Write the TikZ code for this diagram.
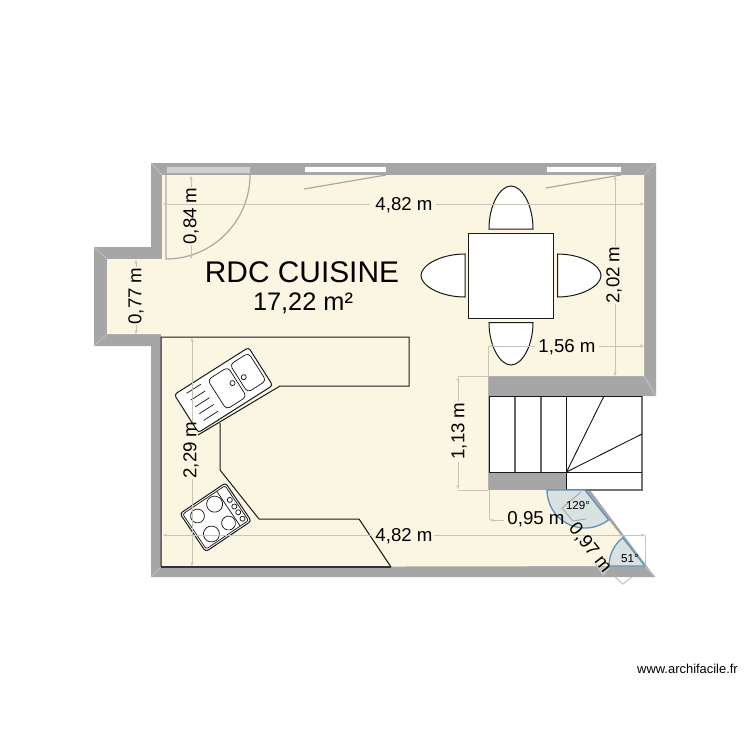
\documentclass[tikz,border=0pt]{standalone}
\usepackage{fontspec}
\setmainfont{Liberation Sans}
\usetikzlibrary{arrows.meta}
\definecolor{floorc}{HTML}{FBF6E2}
\definecolor{wallc}{HTML}{A6A6A6}
\definecolor{mitre}{HTML}{BDBDBD}
\definecolor{dimc}{HTML}{C6C4B8}
\definecolor{winc}{HTML}{A9A9A5}
\definecolor{anglef}{HTML}{D8E2E0}
\definecolor{angled}{HTML}{5F95C2}
\tikzset{
  dimline/.style={draw=dimc,line width=0.75pt},
  dimleft/.style={dimline,{Stealth[length=3pt,width=2.4pt]}-},
  dimright/.style={dimline,-{Stealth[length=3pt,width=2.4pt]}},
  dimtext/.style={inner sep=0pt,font=\fontsize{14}{14}\selectfont,text=black},
  mitreline/.style={draw=mitre,line width=0.75pt},
  furn/.style={draw=black!90,line width=0.75pt,fill=white},
  counterline/.style={draw=black!90,line width=0.75pt},
  thin fur/.style={draw=black!90,line width=0.55pt},
  windowbox/.style={fill=white,draw=winc,line width=0.6pt},
  winswing/.style={draw=winc,line width=0.9pt},
  anglesector/.style={fill=anglef,draw=angled,line width=1pt},
}
\begin{document}
\begin{tikzpicture}[x=0.75pt,y=-0.75pt]
\useasboundingbox (0,0) rectangle (750,750);
\fill[white] (0,0) rectangle (750,750);
% walls
\fill[wallc] (94,247) -- (151,247) -- (151,163) -- (656,163) -- (656,396) -- (566,396) -- (566,490) -- (590,490) -- (655,577) -- (151,577) -- (151,346) -- (94,346) -- cycle;
% room
\fill[floorc] (107,259) -- (162,259) -- (162,175) -- (644,175) -- (644,376) -- (488,376) -- (488,490) -- (585,490) -- (645,566) -- (161,567) -- (161,334) -- (107,334) -- cycle;
% mitres
\draw[mitreline] (151,163) -- (162,175);
\draw[mitreline] (656,163) -- (644,175);
\draw[mitreline] (94,247) -- (107,259);
\draw[mitreline] (94,346) -- (107,334);
\draw[mitreline] (151,577) -- (161,567);
\draw[mitreline] (656,396) -- (644,376);
\draw[mitreline] (655,577) -- (645,566);
\fill[mitre!90!white] (595,564) -- (610,568) -- (603,576) -- cycle;
% openings
\fill[winc!55!white,draw=winc,line width=0.6pt] (166,166) rectangle (250,173);
\draw[windowbox] (304,166) rectangle (386,172);
\draw[windowbox] (546,166) rectangle (621,172);
\draw[winswing] (304,189) -- (386,175);
\draw[winswing] (546,188) -- (621,175);
\draw[winswing] (166,173) -- (166,259) arc[start angle=270,end angle=360,radius=63pt];
% counter
\draw[counterline] (161,567) -- (161,337) -- (409,337) -- (409,386) -- (280,386) -- (198,435);
\draw[counterline] (220,423) -- (220,470) -- (259,519) -- (359,519) -- (391,567);
\draw[draw=black!80,line width=1pt] (161,567) -- (391,567);
% sink
\begin{scope}[shift={(223.5,390)},rotate=32.4]
  \draw[furn,rounded corners=2.2pt] (-44,-22.5) rectangle (44,22.5);
  \draw[thin fur,rounded corners=3pt] (-8,-17) rectangle (16,18);
  \draw[thin fur,rounded corners=3pt] (19,-18) rectangle (41,15);
  \draw[thin fur] (11.3,-1) circle (1.9pt);
  \draw[thin fur] (23.9,0) circle (1.9pt);
  \foreach \yy in {-17,-9,-1,7,15} \draw[thin fur] (-33,\yy) -- (-16,\yy);
\end{scope}
% hob
\begin{scope}[shift={(215.5,518)},rotate=34]
  \draw[furn,rounded corners=2.2pt] (-27,-23.5) rectangle (28,22.5);
  \draw[thin fur,rounded corners=1.6pt] (-25,-21.5) rectangle (26,20.5);
  \draw[thin fur] (16,-21.5) -- (16,20.5);
  \draw[thin fur] (7,-12) circle (6pt);
  \draw[thin fur] (8,11.5) circle (5.2pt);
  \draw[thin fur] (-13.8,-11.7) circle (5.2pt);
  \draw[thin fur] (-12.3,11) circle (6pt);
  \foreach \yy in {-7,1,8,15.7} \draw[thin fur] (22,\yy) circle (1.9pt);
\end{scope}
% table and chairs
\draw[furn] (468,233) rectangle (553,318);
\draw[furn] (489,229) .. controls (489,205) and (500,186) .. (511,186) .. controls (522,186) and (533,205) .. (533,229) -- cycle;
\draw[furn] (489,322.5) .. controls (489,346) and (500,365) .. (511,365) .. controls (522,365) and (533,346) .. (533,322.5) -- cycle;
\draw[furn] (465,254) .. controls (441,254) and (421,265) .. (421,275.5) .. controls (421,286) and (441,297) .. (465,297) -- cycle;
\draw[furn] (557.5,254) .. controls (581,254) and (601,265) .. (601,275.5) .. controls (601,286) and (581,297) .. (557.5,297) -- cycle;
% stairs
\fill[white] (489,396) rectangle (642,472);
\fill[white] (566,472) rectangle (642,490);
\draw[draw=black!55,line width=0.9pt] (642,396) -- (642,490) -- (566,490);
\draw[draw=black!60,line width=0.9pt] (515,396) -- (515,472) (541,396) -- (541,472);
\draw[draw=black!90,line width=0.75pt] (642,396) -- (489,396) -- (489,472) -- (642,472);
\draw[draw=black!90,line width=0.75pt] (566.5,396) -- (566.5,490);
\draw[draw=black!90,line width=0.7pt] (566.5,472) -- (604,396);
\draw[draw=black!90,line width=0.7pt] (566.5,472) -- (642,434);
% angle sectors
\draw[anglesector] (585,490) -- (547,490) arc[start angle=180,end angle=308.3,radius=28.5pt] -- cycle;
\draw[anglesector] (645,566) -- (609,566) arc[start angle=180,end angle=128.3,radius=27pt] -- cycle;
\draw[draw=winc,line width=0.7pt] (581,492) -- (562,508) -- (573,521) -- (586,519);
% dimension lines
\draw[dimleft] (163,204) -- (370,204);
\draw[dimright] (436,204) -- (644,204);
\draw[dimleft] (163,535) -- (372,535);
\draw[dimright] (434,535) -- (645,535);
\draw[dimline] (645,535) -- (645,566);
\draw[dimleft] (191,176) -- (191,187);
\draw[dimright] (191,245) -- (191,259);
\draw[dimleft] (136,260) -- (136,267);
\draw[dimright] (136,325) -- (136,334);
\draw[dimleft] (615,176) -- (615,246);
\draw[dimright] (615,304) -- (615,376);
\draw[dimleft] (192,338) -- (192,422);
\draw[dimright] (192,479) -- (192,566);
\draw[dimleft] (489,346) -- (535,346);
\draw[dimright] (599,346) -- (644,346);
\draw[dimline] (488,346) -- (488,376);
\draw[dimleft] (458,377) -- (458,401);
\draw[dimright] (458,462) -- (458,489);
\draw[dimline] (458,376) -- (488,376) (458,490) -- (488,490);
\draw[dimleft] (490,520) -- (504,520);
\draw[dimline] (489,490) -- (489,520);
\draw[dimline] (615,577) -- (623,584) -- (632,577);
% labels
\node[dimtext] (a) at (404,205) {4,82 m};
\node[dimtext] (b) at (404,536) {4,82 m};
\node[dimtext,rotate=90] (c) at (191,216) {0,84 m};
\node[dimtext,rotate=90] (d) at (136,296) {0,77 m};
\node[dimtext,rotate=90] (e) at (614,275) {2,02 m};
\node[dimtext,rotate=90] (f) at (191,450) {2,29 m};
\node[dimtext] (g) at (567,347) {1,56 m};
\node[dimtext,rotate=90] (h) at (459,431) {1,13 m};
\node[dimtext] (i) at (536,519) {0,95 m};
\node[dimtext,rotate=-51.7] (j) at (590,548) {0,97 m};
\node[inner sep=0pt,font=\fontsize{8.7}{9}\selectfont] (k) at (578,505) {129°};
\node[inner sep=0pt,font=\fontsize{8.7}{9}\selectfont] (l) at (630,558) {51°};
\node[inner sep=0pt,font=\fontsize{22.4}{23}\selectfont] (m) at (302,272) {RDC CUISINE};
\node[inner sep=0pt,font=\fontsize{19}{20}\selectfont] (n) at (303,303) {17,22 m²};
\node[inner sep=0pt,font=\fontsize{9.7}{10}\selectfont] (o) at (687.5,669) {www.archifacile.fr};
\end{tikzpicture}
\end{document}
